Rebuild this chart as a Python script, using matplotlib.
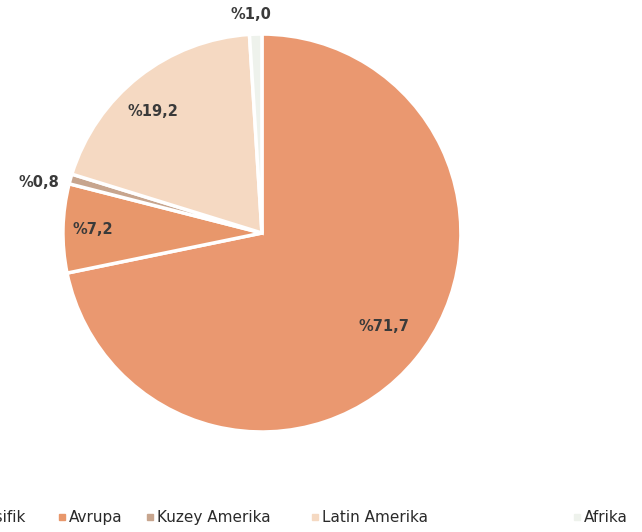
import numpy as np
import matplotlib
matplotlib.use('Agg')
import matplotlib.pyplot as plt

# Bolgelere gore dagilim (%)
bolgeler = ['Asya Pasifik', 'Avrupa', 'Kuzey Amerika', 'Latin Amerika', 'Afrika']
oranlar = [71.7, 7.2, 0.8, 19.2, 1.0]
etiketler = ['%71,7', '%7,2', '%0,8', '%19,2', '%1,0']
renkler = ['#EA9870', '#E8976B', '#C7A58E', '#F5D9C2', '#EEF2EC']
# etiketin merkeze uzakligi (yaricap cinsinden) ve aci kaydirmasi (derece)
uzaklik = [0.77, 0.85, 1.15, 0.82, 1.10]
kayma = [1.8, 0.0, 3.0, 3.7, 1.0]
# gosterge ogelerinin yatay konumu (sekil orani)
gosterge_x = [-0.113, 0.097, 0.234, 0.491, 0.899]

fig = plt.figure(figsize=(6.42, 5.32), dpi=100)
ax = fig.add_axes([0.098, 0.188, 0.620, 0.748])

wedges, _ = ax.pie(oranlar, colors=renkler, startangle=90, counterclock=False,
                   radius=1.0,
                   wedgeprops=dict(edgecolor='white', linewidth=2.5))
ax.set_xlim(-1, 1)
ax.set_ylim(-1, 1)
ax.set_aspect('equal')
ax.axis('off')

# yuzde etiketleri
for w, et, d, k in zip(wedges, etiketler, uzaklik, kayma):
  ang = np.deg2rad((w.theta1 + w.theta2) / 2 + k)
  ax.text(d*np.cos(ang), d*np.sin(ang), et, ha='center', va='center',
          fontsize=10.5, fontweight='bold', color='#3a3a3a', clip_on=False)

# gosterge (kenarlardan tasiyor)
for x, ad, c in zip(gosterge_x, bolgeler, renkler):
  fig.lines.append(plt.Line2D([x], [0.028], marker='s', markersize=4, ls='none',
                              markerfacecolor=c, markeredgecolor=c,
                              transform=fig.transFigure))
  fig.text(x + 0.011, 0.028, ad, ha='left', va='center', fontsize=11,
           color='#2a2a2a')

fig.savefig('out.png', dpi=100)
